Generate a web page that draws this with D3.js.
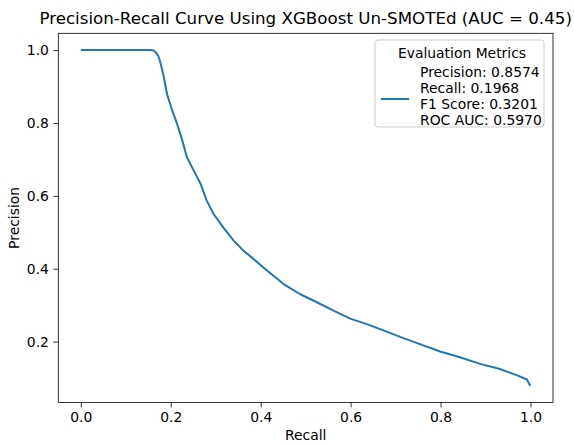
<!DOCTYPE html>
<html>
<head>
<meta charset="utf-8">
<script src="https://cdn.jsdelivr.net/npm/d3@7"></script>
<style>
  body { margin: 0; background: #fff; }
  svg { font-family: "DejaVu Sans", sans-serif; }
</style>
</head>
<body>
<div id="chart"></div>
<script>
// recall / precision pairs
const recall = [0.0, 0.155, 0.162, 0.166, 0.172, 0.177, 0.184, 0.192, 0.203, 0.214, 0.225, 0.236, 0.251,
  0.266, 0.28, 0.295, 0.317, 0.34, 0.362, 0.384, 0.414, 0.451, 0.488, 0.525, 0.562,
  0.599, 0.636, 0.673, 0.71, 0.754, 0.799, 0.843, 0.888, 0.932, 0.969, 0.992, 0.997, 1.0];
const precision = [1.0, 1.0, 0.999, 0.995, 0.985, 0.966, 0.930, 0.878, 0.835, 0.798, 0.755, 0.706, 0.670,
  0.634, 0.587, 0.551, 0.513, 0.477, 0.449, 0.427, 0.395, 0.358, 0.330, 0.308, 0.285,
  0.263, 0.248, 0.231, 0.213, 0.193, 0.173, 0.157, 0.139, 0.125, 0.108, 0.096, 0.084, 0.079];

const xTicks = [0, 0.2, 0.4, 0.6, 0.8, 1.0];
const yTicks = [0.2, 0.4, 0.6, 0.8, 1.0];
const legendTitle = "Evaluation Metrics";
const legendLines = ["Precision: 0.8574", "Recall: 0.1968", "F1 Score: 0.3201", "ROC AUC: 0.5970"];
const chartTitle = "Precision-Recall Curve Using XGBoost Un-SMOTEd (AUC = 0.45)";

const width = 574, height = 445;
const margin = { top: 33.3, right: 21, bottom: 42.5, left: 58.3 };
const plotW = width - margin.left - margin.right;
const plotH = height - margin.top - margin.bottom;

const svg = d3.select("#chart").append("svg")
  .attr("width", width)
  .attr("height", height);

const g = svg.append("g")
  .attr("transform", `translate(${margin.left},${margin.top})`);

// matplotlib style 5% margins
const x = d3.scaleLinear().domain([-0.05, 1.05]).range([0, plotW]);
const yMin = d3.min(precision), yMax = d3.max(precision);
const pad = 0.05 * (yMax - yMin);
const y = d3.scaleLinear().domain([yMin - pad, yMax + pad]).range([plotH, 0]);

const xAxis = g.append("g")
  .attr("transform", `translate(0,${plotH})`)
  .call(d3.axisBottom(x).tickValues(xTicks).tickFormat(d3.format(".1f")).tickSize(4.9).tickPadding(4.5));
const yAxis = g.append("g")
  .call(d3.axisLeft(y).tickValues(yTicks).tickFormat(d3.format(".1f")).tickSize(4.9).tickPadding(4.5));

[xAxis, yAxis].forEach((a) => {
  a.select(".domain").remove();
  a.selectAll("line").attr("stroke", "#000").attr("stroke-width", 0.8);
  a.selectAll("text").attr("font-size", "13.9px").attr("fill", "#000")
    .attr("font-family", "DejaVu Sans");
});

// frame
g.append("rect")
  .attr("width", plotW)
  .attr("height", plotH)
  .attr("fill", "none")
  .attr("stroke", "#000")
  .attr("stroke-width", 0.8);

// curve
const pts = recall.map((r, i) => [r, precision[i]]);
g.append("path")
  .datum(pts)
  .attr("fill", "none")
  .attr("stroke", "#1f77b4")
  .attr("stroke-width", 2)
  .attr("stroke-linejoin", "round")
  .attr("d", d3.line().x((d) => x(d[0])).y((d) => y(d[1])));

// title and labels
svg.append("text")
  .attr("x", margin.left + plotW / 2)
  .attr("y", 24)
  .attr("text-anchor", "middle")
  .attr("font-size", "16.7px")
  .text(chartTitle);

svg.append("text")
  .attr("x", margin.left + plotW / 2)
  .attr("y", 440)
  .attr("text-anchor", "middle")
  .attr("font-size", "13.9px")
  .text("Recall");

svg.append("text")
  .attr("transform", `translate(19,${margin.top + plotH / 2}) rotate(-90)`)
  .attr("text-anchor", "middle")
  .attr("font-size", "13.9px")
  .text("Precision");

// legend
const lg = svg.append("g").attr("transform", "translate(375,40)");
lg.append("rect")
  .attr("width", 169)
  .attr("height", 87)
  .attr("rx", 3)
  .attr("fill", "#fff")
  .attr("fill-opacity", 0.8)
  .attr("stroke", "#cccccc")
  .attr("stroke-width", 1);
lg.append("text")
  .attr("x", 87)
  .attr("y", 18)
  .attr("text-anchor", "middle")
  .attr("font-size", "13.9px")
  .text(legendTitle);
lg.append("line")
  .attr("x1", 6).attr("x2", 34)
  .attr("y1", 59).attr("y2", 59)
  .attr("stroke", "#1f77b4")
  .attr("stroke-width", 2);
lg.selectAll("text.item")
  .data(legendLines)
  .join("text")
  .attr("class", "item")
  .attr("x", 45)
  .attr("y", (d, i) => 37 + i * 16)
  .attr("font-size", "13.9px")
  .text((d) => d);
</script>
</body>
</html>
